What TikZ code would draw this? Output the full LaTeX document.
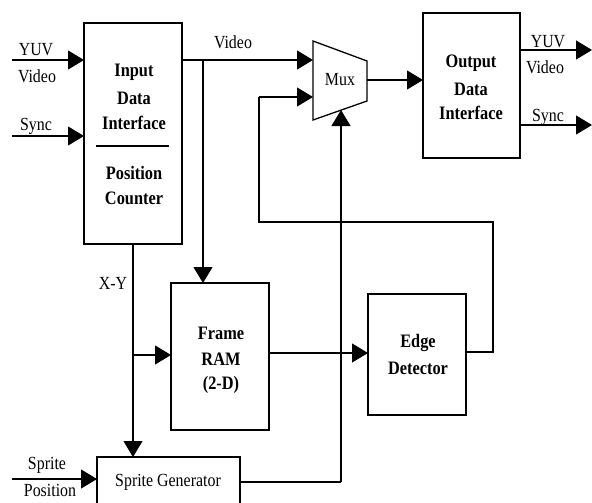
\documentclass[tikz,border=0pt]{standalone}
\usepackage{fontspec}
\setmainfont[FakeStretch=0.86]{Liberation Serif}
\usetikzlibrary{arrows.meta}
\tikzset{
  blk/.style={draw, line width=1.3pt, inner sep=0pt, fill=white},
  lbl/.style={inner sep=0pt, font=\fontsize{18.5}{18.5}\selectfont},
  blbl/.style={inner sep=0pt, font=\fontsize{19}{19}\selectfont\bfseries},
  wire/.style={line width=1.2pt},
  arr/.style={line width=1.2pt, -{Triangle[length=16pt,width=19pt]}},
}
\begin{document}
\begin{tikzpicture}[x=1pt,y=-1pt]
\clip (0,0) rectangle (592,503);
\fill[white] (0,0) rectangle (592,503);

% Input block
\node[blk, minimum width=98pt, minimum height=221pt] (inp) at (133,133.5) {};
\node[blbl] (t1) at (134,72) {Input};
\node[blbl] (t2) at (134,98) {Data};
\node[blbl] (t3) at (134,123) {Interface};
\coordinate (dl) at (96,146);
\coordinate (dr) at (169,146);
\draw[wire] (dl) -- (dr);
\node[blbl] (t4) at (134,173) {Position};
\node[blbl] (t5) at (134,198) {Counter};

% Output block
\node[blk, minimum width=97pt, minimum height=145pt] (outb) at (471.5,85.5) {};
\node[blbl] (o1) at (471,63) {Output};
\node[blbl] (o2) at (471,89) {Data};
\node[blbl] (o3) at (471,113) {Interface};

% Frame RAM
\node[blk, minimum width=98pt, minimum height=147pt] (ram) at (220,356.5) {};
\node[blbl] (r1) at (221,333) {Frame};
\node[blbl] (r2) at (221,359) {RAM};
\node[blbl] (r3) at (221,385) {(2-D)};

% Edge detector
\node[blk, minimum width=98pt, minimum height=121pt] (edge) at (417,354.5) {};
\node[blbl] (e1) at (418,343) {Edge};
\node[blbl] (e2) at (418,368) {Detector};

% Sprite generator (cut by bottom edge)
\node[blk, minimum width=143pt, minimum height=60pt] (sg) at (168.5,487) {};
\node[lbl] (sgt) at (168,482) {Sprite Generator};

% Mux
\coordinate (m1) at (313,41);
\coordinate (m2) at (367,61);
\coordinate (m3) at (367,101);
\coordinate (m4) at (313,120);
\draw[line width=1.3pt, fill=white] (m1) -- (m2) -- (m3) -- (m4) -- cycle;
\node[lbl] (mux) at (340,80) {Mux};
\coordinate (mi1) at (313,60);
\coordinate (mi2) at (313,97);
\coordinate (mo) at (367,80);
\coordinate (mb) at (341,110);

% Left inputs
\coordinate (yin) at (12,60);
\coordinate (sin) at (12,136);
\coordinate (yend) at (84,60);
\coordinate (send) at (84,136);
\draw[arr] (yin) -- (yend);
\draw[arr] (sin) -- (send);
\node[lbl] (yl1) at (36,50) {YUV};
\node[lbl] (yl2) at (37,76) {Video};
\node[lbl] (sl) at (36,126) {Sync};

% Video path
\coordinate (vs) at (182,60);
\coordinate (vb) at (203,60);
\coordinate (vr) at (203,283);
\draw[arr] (vs) -- (mi1);
\draw[arr] (vb) -- (vr);
\node[lbl] (vl) at (233,42) {Video};

% Mux to output
\coordinate (oin) at (423,80);
\draw[arr] (mo) -- (oin);

% Outputs
\coordinate (yo1) at (520,50);
\coordinate (yo2) at (592,50);
\coordinate (so1) at (520,125);
\coordinate (so2) at (592,125);
\draw[arr] (yo1) -- (yo2);
\draw[arr] (so1) -- (so2);
\node[lbl] (oy1) at (548,42) {YUV};
\node[lbl] (oy2) at (545,67) {Video};
\node[lbl] (os) at (548,117) {Sync};

% X-Y
\coordinate (xy0) at (133,244);
\coordinate (xyb) at (133,355);
\coordinate (xy1) at (133,457);
\coordinate (rin) at (171,355);
\draw[arr] (xy0) -- (xy1);
\draw[arr] (xyb) -- (rin);
\node[lbl] (xyl) at (113,283) {X-Y};

% RAM to edge
\coordinate (ro) at (269,353);
\coordinate (ein) at (368,353);
\draw[arr] (ro) -- (ein);

% Feedback
\coordinate (eo) at (466,352);
\coordinate (f1) at (493,352);
\coordinate (f2) at (493,222);
\coordinate (f3) at (259,222);
\coordinate (f4) at (259,97);
\draw[wire] (eo) -- (f1) -- (f2) -- (f3) -- (f4);
\draw[arr] (f4) -- (mi2);

% Sprite
\coordinate (sp0) at (12,479);
\coordinate (sp1) at (97,479);
\draw[arr] (sp0) -- (sp1);
\node[lbl] (spl1) at (47,465) {Sprite};
\node[lbl] (spl2) at (50,490) {Position};
\coordinate (sgo) at (240,482);
\coordinate (sgc) at (341,482);
\draw[wire] (sgo) -- (sgc);
\draw[arr] (sgc) -- (mb);
\end{tikzpicture}
\end{document}
